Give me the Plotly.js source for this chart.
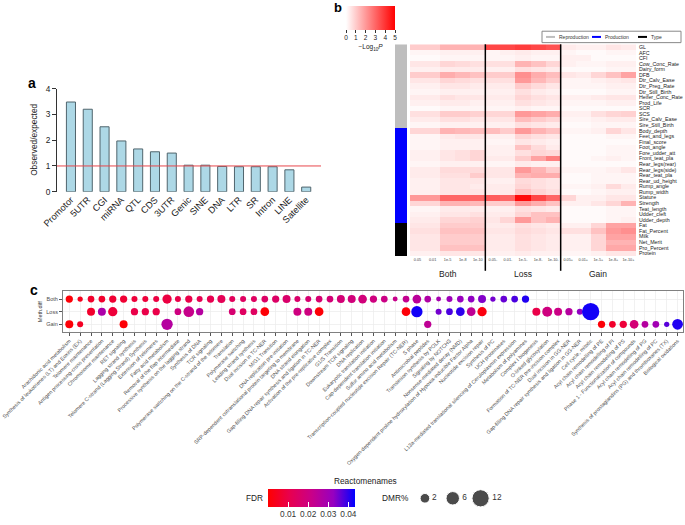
<!DOCTYPE html>
<html><head><meta charset="utf-8">
<script src="https://cdn.plot.ly/plotly-3.0.1.min.js"></script>
<style>html,body{margin:0;padding:0;background:#fff}#g{width:685px;height:525px}</style>
</head><body><div id="g"></div>
<script>
// ---------- Panel a ----------
const barCats = ['Promotor','5UTR','CGI','miRNA','QTL','CDS','3UTR','Genic','SINE','DNA','LTR','SR','Intron','LINE','Satellite'];
const barVals = [3.48,3.2,2.52,1.97,1.66,1.55,1.5,1.03,1.03,0.98,0.97,0.97,0.97,0.85,0.18];
const refLine = 1;

// ---------- Panel b ----------
const heatCols = ['0.05','0.01','1e-5','1e-8','1e-10','0.05-','0.01-','1e-5-','1e-8-','1e-10-','0.05+','0.01+','1e-5+','1e-8+','1e-10+'];
const colGroups = ['Both','Loss','Gain'];
const traits = ['GL','AFC','CFI','Cow_Conc_Rate','Dairy_form','DFB','Dtr_Calv_Ease','Dtr_Preg_Rate','Dtr_Still_Birth','Heifer_Conc_Rate','Prod_Life','SCR','SCS','Sire_Calv_Ease','Sire_Still_Birth',
 'Body_depth','Feet_and_legs','Final_score','Foot_angle','Fore_udder_att','Front_teat_pla','Rear_legs(rear)','Rear_legs(side)','Rear_teat_pla','Rear_ud_height','Rump_angle','Rump_width','Stature','Strength','Teat_length','Udder_cleft','Udder_depth',
 'Fat','Fat_Percent','Milk','Net_Merit','Pro_Percent','Protein'];
const traitGroup = [0,0,0,0,0,0,0,0,0,0,0,0,0,0,0, 1,1,1,1,1,1,1,1,1,1,1,1,1,1,1,1,1, 2,2,2,2,2,2];
const groupNames = ['Reproduction','Production','Type'];
const groupColors = ['#bebebe','#0000ff','#000000'];
const heatZ = [
 [1.0,1.0,1.5,1.5,1.5, 3.6,3.6,3.8,3.6,3.4, 0.4,0.3,0.3,0.5,0.4],
 [0.2,0.2,0.3,0.3,0.3, 0.2,0.3,0.4,0.3,0.3, 0.2,0.1,0.1,0.2,0.2],
 [0.1,0.1,0.2,0.2,0.2, 0.2,0.2,0.3,0.2,0.2, 0.3,0.3,0.1,0.1,0.1],
 [0.5,0.5,0.8,0.7,0.6, 0.6,0.6,1.5,1.2,0.8, 0.3,0.2,0.2,0.3,0.3],
 [0.3,0.3,0.4,0.4,0.4, 0.3,0.3,0.6,0.5,0.4, 0.1,0.1,0.1,0.2,0.2],
 [1.0,1.0,1.6,1.4,1.2, 1.0,1.0,2.2,1.6,1.3, 0.5,0.4,0.8,1.2,1.8],
 [0.5,0.5,0.8,0.7,0.6, 0.6,0.6,2.0,1.4,1.0, 0.2,0.2,0.3,0.4,0.5],
 [0.3,0.3,0.5,0.5,0.4, 0.4,0.4,1.0,0.7,0.5, 0.2,0.2,0.2,0.3,0.3],
 [0.2,0.2,0.3,0.3,0.3, 0.3,0.3,0.6,0.4,0.3, 0.1,0.1,0.1,0.2,0.2],
 [0.4,0.4,0.6,0.5,0.5, 0.4,0.4,0.8,0.6,0.5, 0.3,0.3,0.4,0.5,0.5],
 [0.3,0.3,0.4,0.4,0.3, 0.3,0.3,0.6,0.5,0.4, 0.2,0.2,0.2,0.3,0.3],
 [0.1,0.1,0.2,0.2,0.2, 0.2,0.2,0.3,0.2,0.2, 0.1,0.1,0.1,0.1,0.1],
 [0.6,0.6,1.0,1.0,0.9, 0.8,0.8,2.0,1.8,1.6, 0.3,0.3,0.6,0.8,0.9],
 [0.4,0.4,0.6,0.6,0.5, 0.5,0.5,1.3,1.0,0.8, 0.2,0.2,0.3,0.4,0.4],
 [0.2,0.2,0.3,0.3,0.3, 0.3,0.3,0.6,0.5,0.4, 0.1,0.1,0.2,0.2,0.2],
 [0.8,0.8,1.5,1.4,1.3, 1.3,1.0,2.0,1.5,1.2, 0.2,0.2,0.3,0.8,0.5],
 [0.2,0.2,0.4,0.5,0.5, 0.3,0.3,0.8,0.6,0.5, 0.1,0.1,0.1,0.2,0.2],
 [0.2,0.2,0.3,0.3,0.3, 0.2,0.2,0.5,0.4,0.3, 0.1,0.1,0.1,0.1,0.1],
 [0.2,0.2,0.3,0.3,0.3, 0.3,0.3,1.2,0.7,0.4, 0.1,0.1,0.1,0.2,0.2],
 [0.3,0.3,0.5,0.6,0.8, 0.3,0.3,0.6,0.8,0.7, 0.1,0.1,0.1,0.2,0.2],
 [0.3,0.3,0.5,0.6,0.8, 0.4,0.4,1.0,1.8,2.5, 0.1,0.1,0.2,0.3,0.2],
 [0.2,0.2,0.3,0.3,0.3, 0.2,0.2,0.4,0.3,0.3, 0.1,0.1,0.1,0.1,0.1],
 [0.4,0.4,0.7,0.7,0.7, 0.5,0.5,2.0,1.5,1.0, 0.2,0.2,0.2,0.3,0.5],
 [0.4,0.4,0.6,0.6,1.0, 0.5,0.5,1.5,1.6,1.6, 0.1,0.1,0.2,0.2,0.2],
 [0.3,0.3,0.5,0.5,0.5, 0.3,0.3,0.7,0.6,0.5, 0.1,0.1,0.2,0.2,0.2],
 [0.3,0.3,0.5,0.5,0.4, 0.4,0.4,0.8,0.6,0.5, 0.2,0.2,0.3,0.7,0.4],
 [0.3,0.3,0.5,0.5,0.5, 0.4,0.4,1.2,0.8,0.6, 0.1,0.1,0.2,0.3,0.3],
 [2.0,2.0,3.0,3.0,3.0, 3.2,3.0,4.8,3.6,3.0, 0.8,0.3,0.3,0.5,0.5],
 [0.8,0.8,1.5,1.5,1.4, 1.0,1.0,2.0,1.6,1.2, 0.3,0.3,0.5,0.8,1.5],
 [0.2,0.2,0.4,0.4,0.4, 0.3,0.3,0.6,0.5,0.4, 0.1,0.1,0.1,0.2,0.2],
 [0.3,0.3,0.5,0.5,0.6, 0.4,0.4,0.8,1.2,1.2, 0.1,0.1,0.1,0.2,0.2],
 [0.4,0.4,0.8,0.8,0.9, 0.5,0.8,2.0,1.2,1.5, 0.1,0.1,0.1,0.2,0.3],
 [0.5,0.5,1.0,1.0,1.0, 0.4,0.4,0.6,0.5,0.4, 0.3,0.3,0.8,1.8,1.8],
 [0.6,0.6,1.2,1.2,1.2, 0.5,0.5,0.7,0.6,0.5, 0.6,0.6,1.2,2.0,2.2],
 [0.5,0.5,1.0,1.0,1.0, 0.4,0.4,0.6,0.5,0.4, 0.3,0.3,0.8,1.8,1.8],
 [0.5,0.5,1.0,1.0,1.0, 0.4,0.4,0.6,0.5,0.4, 0.3,0.3,0.8,1.5,1.5],
 [0.5,0.5,1.2,1.2,1.2, 0.4,0.4,0.6,0.5,0.4, 0.3,0.3,0.8,1.7,1.7],
 [0.3,0.3,0.5,0.5,0.5, 0.3,0.3,0.4,0.3,0.3, 0.2,0.2,0.3,0.5,0.5]
];

// ---------- Panel c ----------
const pathways = ['Arachidonic acid metabolism','Synthesis of leukotrienes (LT) and Eoxins (EX)','Telomere maintenance','Antigen processing-cross presentation','Chromosome maintenance','RET signaling','Lagging strand synthesis','Telomere C-strand (Lagging Strand) Synthesis','Extension of telomeres','Fatty acid metabolism',
 'Removal of the flap intermediate','Processive synthesis on the lagging strand','Synthesis of DNA','TCR signaling','Polymerase switching on the C-strand of the telomere','Translation','Polymerase switching','Leading strand synthesis','Dual incision in TC-NER','M/G1 Transition',
 'DNA replication pre-initiation','SRP-dependent cotranslational protein targeting to membrane','DNA strand elongation','Gap-filling DNA repair synthesis and ligation in TC-NER','Activation of the pre-replicative complex','G1/S Transition','Downstream TCR signaling','DNA replication','Eukaryotic translation initiation','Cap-dependent translation initiation',
 'Sulfur amino acid metabolism','Transcription-coupled nucleotide excision Repair (TC-NER)','S phase','Antimicrobial peptides','Translesion synthesis by POLK','Signaling by NOTCH3','Nonsense-mediated decay (NMD)','Oxygen-dependent proline hydroxylation of Hypoxia-inducible Factor Alpha','Nucleotide excision repair','Synthesis of PC',
 'UCH proteinases','L13a-mediated translational silencing of Ceruloplasmin expression','Metabolism of polyamines','Complex I biogenesis','O-linked glycosylation','Formation of TC-NER pre-incision complex','Dual incision in GG-NER','Gap-filling DNA repair synthesis and ligation in GG-NER','Cell cycle, mitotic','Acyl chain remodelling of PE',
 'Acyl chain remodelling of PI','Acyl chain remodelling of PS','Phase 1 - Functionalization of compounds','Acyl chain remodelling of PG','Acyl chain remodelling of PC','Synthesis of prostaglandins (PG) and thromboxanes (TX)','Biological oxidations'];
const N = null;
const bothDMR = [0.61,0.06,0.39,0.39,0.61,0.61,0.19,0.19,0.19,1.75, 0.19,0.61,0.19,0.61,0.95,0.19,0.19,0.19,0.39,0.61, 0.95,0.19,0.19,0.39,0.39,0.95,0.95,1.35,0.61,0.39, 0.02,0.39,1.35,0.39,0.02,0.19,0.39,0.39,0.95,0.06, 0.39,0.39,0.61,N,N,N,N,N,N,N, N,N,N,N,N,N,N];
const bothFDR = [0.001,0.004,0.006,0.006,0.007,0.007,0.008,0.008,0.009,0.009, 0.010,0.010,0.011,0.011,0.012,0.013,0.014,0.014,0.015,0.015, 0.016,0.016,0.017,0.017,0.018,0.018,0.019,0.019,0.020,0.021, 0.022,0.023,0.025,0.027,0.029,0.031,0.032,0.033,0.034,0.035, 0.036,0.038,0.041,N,N,N,N,N,N,N, N,N,N,N,N,N,N];
const lossDMR = [N,N,0.95,0.95,1.75,N,0.61,0.61,0.61,N, 0.39,2.9,0.61,N,N,0.39,0.39,0.39,1.35,N, N,0.95,0.95,1.35,N,N,N,N,N,N, N,1.35,3.5,N,0.19,0.39,1.35,1.35,1.75,N, N,N,N,0.95,2.3,0.95,0.61,0.19,12.2,N, N,N,N,N,N,N,N];
const lossFDR = [N,N,0.006,0.028,0.008,N,0.010,0.010,0.010,N, 0.020,0.022,0.026,N,N,0.017,0.014,0.014,0.001,N, N,0.020,0.020,0.001,N,N,N,N,N,N, N,0.001,0.042,N,0.035,0.038,0.040,0.024,0.002,N, N,N,N,0.010,0.020,0.021,0.026,0.033,0.042,N, N,N,N,N,N,N,N];
const gainDMR = [0.95,0.19,N,N,N,0.95,N,N,N,3.5, N,N,N,N,N,N,N,N,N,N, N,N,N,N,N,N,N,N,N,N, N,N,N,0.61,N,N,N,N,N,N, N,N,N,N,N,N,N,N,N,0.61, 0.39,0.61,1.35,0.39,0.39,0.06,2.9];
const gainFDR = [0.001,0.005,N,N,N,0.001,N,N,N,0.026, N,N,N,N,N,N,N,N,N,N, N,N,N,N,N,N,N,N,N,N, N,N,N,0.024,N,N,N,N,N,N, N,N,N,N,N,N,N,N,N,0.001, 0.006,0.008,0.018,0.026,0.030,0.037,0.041];
const methRows = ['Gain','Loss','Both'];
const fdrTicks = [0.01,0.02,0.03,0.04];
const dmrLegend = [2,6,12];

// ---------- helpers ----------
const W = 685, H = 525;
const px = v => v / W, py = v => 1 - v / H;
const FONT = 'Liberation Sans, Arial, sans-serif';
const fdrScale = [[0,'#ff0000'],[0.25,'#e8004f'],[0.5,'#c90088'],[0.75,'#9700c0'],[1,'#0000ff']];
const dotSize = d => 4.4 + 3.7 * Math.sqrt(d);

function dotTrace(row, dmr, fdr, showScale) {
  const xs = [], ds = [], fs = [];
  pathways.forEach((p, i) => { if (dmr[i] !== null) { xs.push(p); ds.push(dmr[i]); fs.push(fdr[i]); } });
  const m = { size: ds.map(dotSize), color: fs, cmin: 0, cmax: 0.0433, colorscale: fdrScale, line: { width: 0 }, opacity: 1, showscale: showScale };
  if (showScale) {
    m.colorbar = { orientation: 'h', x: px(311.5), xanchor: 'center', y: py(497), yanchor: 'top', len: 87, lenmode: 'pixels', thickness: 18,
      xpad: 0, ypad: 0, outlinewidth: 0, ticks: 'inside', ticklen: 5, tickwidth: 1, tickcolor: '#ffffff', tickangle: 0,
      tickmode: 'array', tickvals: fdrTicks, ticktext: fdrTicks.map(v => v.toFixed(2)), tickfont: { size: 8.3, color: '#333', family: FONT } };
  }
  return { type: 'scatter', mode: 'markers', x: xs, y: xs.map(() => row), xaxis: 'x4', yaxis: 'y4', marker: m, hoverinfo: 'skip', cliponaxis: false };
}

const traces = [
  { type: 'bar', x: barCats, y: barVals, xaxis: 'x', yaxis: 'y', width: 0.54,
    marker: { color: '#add8e6', line: { color: '#50656d', width: 1 } } },
  { type: 'heatmap', x: heatCols, y: traits, z: heatZ, xaxis: 'x2', yaxis: 'y2', zmin: 0, zmax: 5,
    colorscale: [[0,'#ffffff'],[1,'#ff0000']], xgap: 0, ygap: 0,
    colorbar: { orientation: 'h', x: px(370.5), xanchor: 'center', y: py(6), yanchor: 'top', len: 49, lenmode: 'pixels', thickness: 24,
      xpad: 0, ypad: 0, outlinewidth: 0, ticks: 'outside', ticklen: 3, tickwidth: 1, tickcolor: '#333', tickangle: 0,
      tickmode: 'array', tickvals: [0,1,2,3,4,5], tickfont: { size: 6.5, color: '#222', family: FONT },
      title: { text: '\u2212Log<sub>10</sub><i>P</i>', side: 'bottom', font: { size: 6.5, color: '#222', family: FONT } } } },
  { type: 'heatmap', x: ['group'], y: traits, z: traitGroup.map(g => [g]), xaxis: 'x3', yaxis: 'y2', zmin: 0, zmax: 2,
    colorscale: [[0, groupColors[0]], [0.5, groupColors[1]], [1, groupColors[2]]], showscale: false, hoverinfo: 'skip' },
  dotTrace('Both', bothDMR, bothFDR, true),
  dotTrace('Loss', lossDMR, lossFDR, false),
  dotTrace('Gain', gainDMR, gainFDR, false),
  { type: 'scatter', mode: 'markers+text', x: [0,1,2], y: [0,0,0], xaxis: 'x5', yaxis: 'y5',
    marker: { size: dmrLegend.map(dotSize), color: '#000' }, text: dmrLegend.map(String), textposition: 'middle right',
    textfont: { size: 8.3, color: '#333', family: FONT }, hoverinfo: 'skip', cliponaxis: false }
];

const ann = (x, y, text, size, extra) => Object.assign({ xref: 'paper', yref: 'paper', x: px(x), y: py(y), text, showarrow: false,
  font: { size, family: FONT, color: '#222' }, xanchor: 'center', yanchor: 'middle' }, extra || {});
const bold = { family: FONT, color: '#000' };

const annotations = [
  ann(32, 84, '<b>a</b>', 14, { font: Object.assign({ size: 14 }, bold) }),
  ann(338, 8, '<b>b</b>', 13, { font: Object.assign({ size: 13 }, bold) }),
  ann(34, 294, '<b>c</b>', 14, { font: Object.assign({ size: 14 }, bold) }),
  ann(34, 142, 'Observed/expected', 8.3, { textangle: -90 }),
  ann(40, 317, 'Meth.diff', 5.5, { textangle: -90, font: { size: 5.5, family: FONT, color: '#333' } }),
  ann(366, 488, 'Reactomenames', 8.3),
  ann(254, 506, 'FDR', 8.3),
  ann(395.5, 506, 'DMR%', 8.3),
  ann(557, 37.5, groupNames[0], 5, { xanchor: 'left', font: { size: 5, family: FONT, color: '#333' } }),
  ann(603, 37.5, groupNames[1], 5, { xanchor: 'left', font: { size: 5, family: FONT, color: '#333' } }),
  ann(649, 37.5, groupNames[2], 5, { xanchor: 'left', font: { size: 5, family: FONT, color: '#333' } })
];
colGroups.forEach((g, k) => annotations.push({ xref: 'x2', yref: 'paper', x: 2 + 5 * k, y: py(278), text: g, showarrow: false,
  font: { size: 8.5, family: FONT, color: '#222' }, xanchor: 'center', yanchor: 'middle' }));

const shapes = [
  { type: 'line', xref: 'x domain', yref: 'y', x0: 0, x1: 1, y0: refLine, y1: refLine, line: { color: '#e8474c', width: 1 } },
  { type: 'line', xref: 'x2', yref: 'paper', x0: 4.5, x1: 4.5, y0: py(275), y1: py(45), line: { color: '#000', width: 1.5 } },
  { type: 'line', xref: 'x2', yref: 'paper', x0: 9.5, x1: 9.5, y0: py(275), y1: py(45), line: { color: '#000', width: 1.5 } },
  { type: 'rect', xref: 'paper', yref: 'paper', x0: px(542), x1: px(681), y0: py(43.3), y1: py(31.7), line: { color: '#888', width: 1 }, fillcolor: 'rgba(0,0,0,0)' },
  { type: 'line', xref: 'paper', yref: 'paper', x0: px(546), x1: px(555), y0: py(37.5), y1: py(37.5), line: { color: groupColors[0], width: 2 } },
  { type: 'line', xref: 'paper', yref: 'paper', x0: px(592), x1: px(601), y0: py(37.5), y1: py(37.5), line: { color: groupColors[1], width: 2 } },
  { type: 'line', xref: 'paper', yref: 'paper', x0: px(638), x1: px(647), y0: py(37.5), y1: py(37.5), line: { color: groupColors[2], width: 2 } }
];

const layout = {
  width: W, height: H, margin: { l: 0, r: 0, t: 0, b: 0 }, paper_bgcolor: '#fff', plot_bgcolor: 'rgba(0,0,0,0)',
  showlegend: false, font: { family: FONT, color: '#222' }, annotations, shapes,
  xaxis: { domain: [px(57), px(321)], anchor: 'y', type: 'category', range: [-0.83, 14.88], tickmode: 'array', tickvals: barCats,
    tickangle: -45, tickfont: { size: 9.2, color: '#222' }, ticks: '', showline: false, showgrid: false, zeroline: false, automargin: false },
  yaxis: { domain: [py(194.7), py(90)], anchor: 'x', range: [0, 4], tickmode: 'array', tickvals: [0,1,2,3,4], ticks: 'outside', ticklen: 4,
    tickcolor: '#333', showline: true, linecolor: '#333', linewidth: 1, showgrid: false, zeroline: false, tickfont: { size: 8.3, color: '#222' }, automargin: false },
  xaxis2: { domain: [px(410), px(636)], anchor: 'y2', type: 'category', tickmode: 'array', tickvals: heatCols, tickangle: 0,
    tickfont: { size: 3.8, color: '#444' }, ticks: '', showline: false, showgrid: false, zeroline: false, automargin: false },
  yaxis2: { domain: [py(260), py(45)], anchor: 'x2', type: 'category', autorange: 'reversed', side: 'right', tickmode: 'array', tickvals: traits,
    ticks: '', tickfont: { size: 5.3, color: '#222' }, showline: false, showgrid: false, zeroline: false, automargin: false, ticklabelstandoff: 2 },
  xaxis3: { domain: [px(395), px(407)], anchor: 'y2', showticklabels: false, ticks: '', showgrid: false, zeroline: false, showline: false },
  xaxis4: { domain: [px(63), px(683)], anchor: 'y4', type: 'category', range: [-0.58, 56.5], tickmode: 'array', tickvals: pathways,
    tickangle: -45, tickfont: { size: 5.3, color: '#4d4d4d' }, ticks: 'outside', ticklen: 3, tickcolor: '#555',
    showgrid: true, gridcolor: '#ebebeb', gridwidth: 0.7, showline: true, mirror: true, linecolor: '#808080', linewidth: 1, zeroline: false, automargin: false },
  yaxis4: { domain: [py(337), py(296)], anchor: 'x4', type: 'category', categoryorder: 'array', categoryarray: methRows, range: [-0.6, 2.6],
    tickmode: 'array', tickvals: methRows, ticks: 'outside', ticklen: 3, tickcolor: '#555', tickfont: { size: 5.5, color: '#4d4d4d' },
    showgrid: true, gridcolor: '#ebebeb', gridwidth: 0.7, showline: true, mirror: true, linecolor: '#808080', linewidth: 1, zeroline: false, automargin: false },
  xaxis5: { domain: [px(411), px(494.5)], anchor: 'y5', range: [-0.5, 2.5], visible: false },
  yaxis5: { domain: [py(517), py(495)], anchor: 'x5', range: [-1, 1], visible: false }
};

Plotly.newPlot('g', traces, layout, { displayModeBar: false, staticPlot: true });
</script></body></html>
